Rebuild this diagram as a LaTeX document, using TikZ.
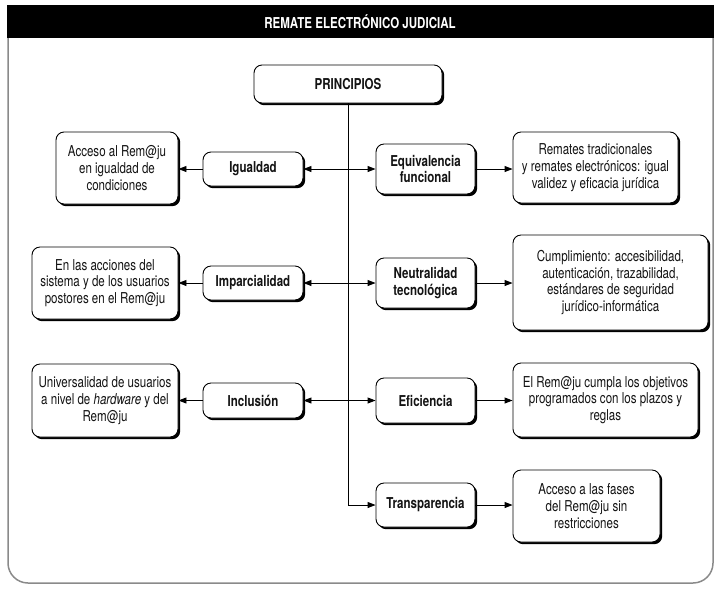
\documentclass[tikz,border=0pt]{standalone}
\usepackage{fontspec}
\setmainfont{TeX Gyre Heros}[FakeStretch=0.77]
\usetikzlibrary{arrows.meta,shadows}
\definecolor{txt}{HTML}{141414}
\definecolor{framecol}{HTML}{8A8A8A}
\begin{document}
\begin{tikzpicture}[x=1pt,y=-1pt,
  box/.style={draw=black, line width=0.9pt, fill=white, rounded corners=8pt,
    align=center, inner sep=2pt, text=txt,
    drop shadow={shadow xshift=2.2pt, shadow yshift=-2.2pt, fill=black, opacity=1},
    font=\fontsize{15}{16.7}\selectfont},
  pbox/.style={box, font=\fontsize{15}{16.7}\selectfont\bfseries},
  conn/.style={line width=0.9pt, draw=black},
  arr/.style={conn, -{Triangle[length=8pt,width=6pt]}}]
\useasboundingbox (0,0) rectangle (717,590);
% frame
\draw[framecol, line width=1.5pt, rounded corners=20pt] (8,6) -- (8,583) -- (713,583) -- (713,6);
\fill[black] (7.25,5) rectangle (713.75,38);
\node[font=\fontsize{15}{16}\selectfont\bfseries, text=white] (title) at (360,22) {REMATE ELECTRÓNICO JUDICIAL};
% centre
\node[pbox, minimum width=188pt, minimum height=38pt] (princ) at (348,84) {PRINCIPIOS};
% left principles
\node[pbox, minimum width=100pt, minimum height=34pt] (igu) at (253,169) {Igualdad};
\node[pbox, minimum width=100pt, minimum height=34pt] (imp) at (253,283) {Imparcialidad};
\node[pbox, minimum width=100pt, minimum height=35pt] (inc) at (253,400.5) {Inclusión};
% right principles
\node[pbox, minimum width=99pt, minimum height=50pt] (equ) at (425.5,169) {Equivalencia\\funcional};
\node[pbox, minimum width=99pt, minimum height=50pt] (neu) at (425.5,283) {Neutralidad\\tecnológica};
\node[pbox, minimum width=99pt, minimum height=45pt] (efi) at (425.5,400.5) {Eficiencia};
\node[pbox, minimum width=99pt, minimum height=44pt] (tra) at (425.5,505) {Transparencia};
% descriptions
\node[box, minimum width=122pt, minimum height=72pt] (d1) at (117,168) {Acceso al Rem@ju\\en igualdad de\\condiciones};
\node[box, minimum width=146pt, minimum height=72pt] (d2) at (105,283) {En las acciones del\\sistema y de los usuarios\\postores en el Rem@ju};
\node[box, minimum width=146pt, minimum height=73pt] (d3) at (105,400.5) {Universalidad de usuarios\\a nivel de \textit{hardware} y del\\Rem@ju};
\node[box, minimum width=165pt, minimum height=71pt] (d4) at (595.5,167.5) {Remates tradicionales\\y remates electrónicos: igual\\validez y eficacia jurídica};
\node[box, minimum width=195pt, minimum height=95pt] (d5) at (610.5,282.5) {Cumplimiento: accesibilidad,\\autenticación, trazabilidad,\\estándares de seguridad\\jurídico-informática};
\node[box, minimum width=185pt, minimum height=74pt] (d6) at (605.5,400) {El Rem@ju cumpla los objetivos\\programados con los plazos y\\reglas};
\node[box, minimum width=147pt, minimum height=72pt] (d7) at (586.5,506) {Acceso a las fases\\del Rem@ju sin\\restricciones};
% junctions on the spine
\coordinate (j1) at (348,169);
\coordinate (j2) at (348,283);
\coordinate (j3) at (348,400.5);
% connectors
\draw[arr] (princ) |- (tra);
\draw[arr] (j1) -- (igu);
\draw[arr] (j1) -- (equ);
\draw[arr] (j2) -- (imp);
\draw[arr] (j2) -- (neu);
\draw[arr] (j3) -- (inc);
\draw[arr] (j3) -- (efi);
\draw[arr] (igu) -- (igu -| d1.east);
\draw[arr] (imp) -- (imp -| d2.east);
\draw[arr] (inc) -- (inc -| d3.east);
\draw[arr] (equ) -- (equ -| d4.west);
\draw[arr] (neu) -- (neu -| d5.west);
\draw[arr] (efi) -- (efi -| d6.west);
\draw[arr] (tra) -- (tra -| d7.west);
\end{tikzpicture}
\end{document}
